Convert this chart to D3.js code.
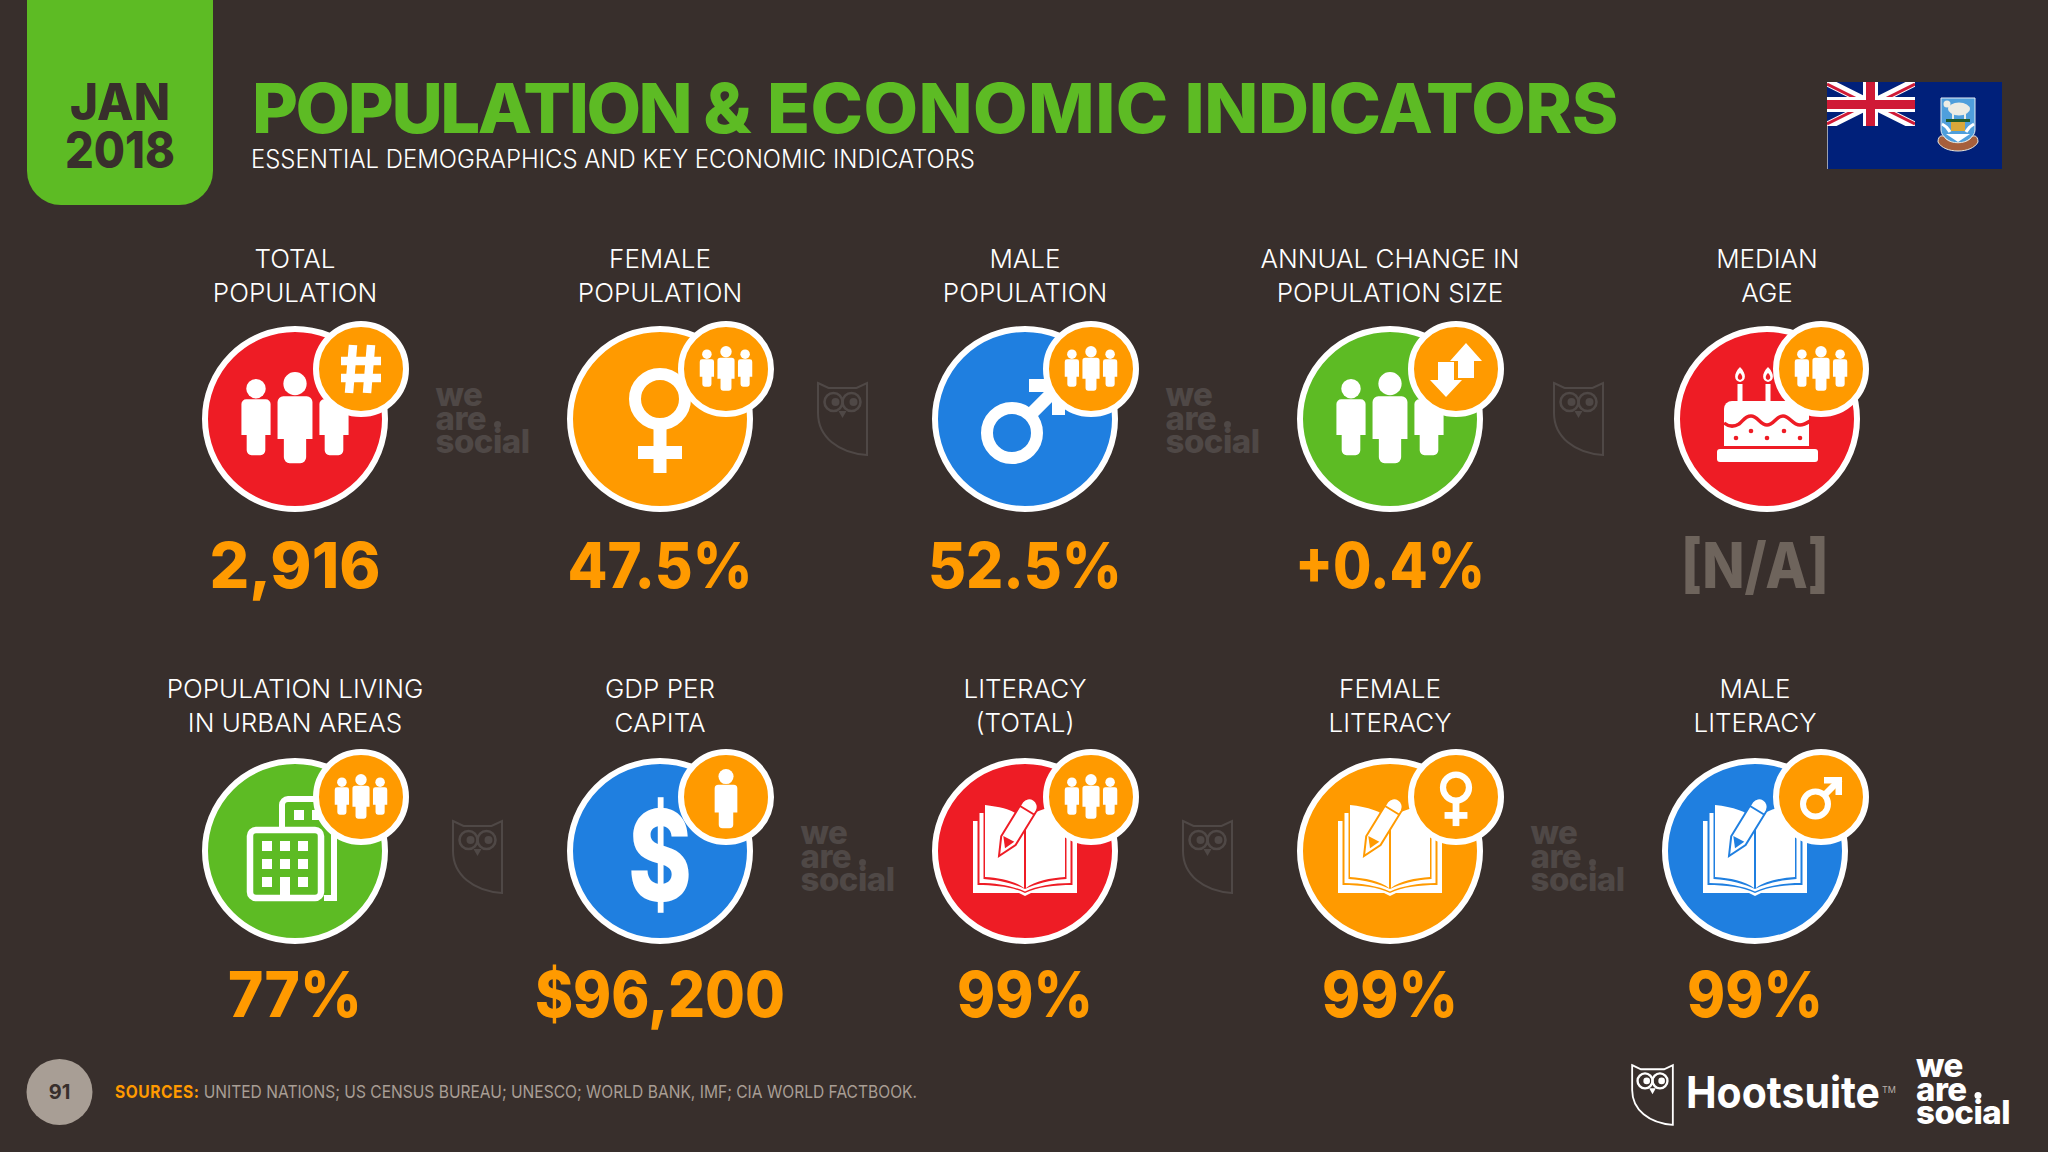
<!DOCTYPE html>
<html>
<head>
<meta charset="utf-8">
<script src="https://cdn.jsdelivr.net/npm/d3@7"></script>
<style>
html, body { margin: 0; padding: 0; background: #382f2c; overflow: hidden; }
text { font-family: Inter, "Liberation Sans", sans-serif; }
</style>
</head>
<body>
<div id="chart"></div>
<script>
// ---- data ----
var labels = [
    ["TOTAL", "POPULATION"], ["FEMALE", "POPULATION"], ["MALE", "POPULATION"],
    ["ANNUAL CHANGE IN", "POPULATION SIZE"], ["MEDIAN", "AGE"],
    ["POPULATION LIVING", "IN URBAN AREAS"], ["GDP PER", "CAPITA"], ["LITERACY", "(TOTAL)"],
    ["FEMALE", "LITERACY"], ["MALE", "LITERACY"]
];
var values = ["2,916", "47.5%", "52.5%", "+0.4%", "[N/A]", "77%", "$96,200", "99%", "99%", "99%"];
var mainIcons = ["people", "female", "male", "people", "cake", "building", "dollar", "book", "book", "book"];
var badgeIcons = ["hash", "people", "people", "arrows", "people", "people", "person", "people", "female", "male"];
var circleFills = ["red", "orange", "blue", "green", "red", "green", "blue", "red", "orange", "blue"];
var watermarks = [["wordmark", "owl", "wordmark", "owl"], ["owl", "wordmark", "owl", "wordmark"]];
var sources = "UNITED NATIONS; US CENSUS BUREAU; UNESCO; WORLD BANK, IMF; CIA WORLD FACTBOOK.";

// printed width of each value, the slide's face is narrower than Inter
var valueWidths = [171, 185, 194, 190, 148, 134, 250, 136, 136, 136];

var palette = { red: "#ee1c25", orange: "#ff9a00", blue: "#1f7fe0", green: "#5dbb24" };
var bg = "#382f2c";
var ghost = "#4f4846";

var width = 2048;
var height = 1152;

var svg = d3.select("#chart").append("svg")
    .attr("width", width).attr("height", height)
    .style("display", "block");

svg.append("rect").attr("width", width).attr("height", height).attr("fill", bg);

var colX = d3.scalePoint().domain(d3.range(5)).range([295, 1755]);
var rowY = d3.scalePoint().domain([0, 1]).range([419, 851]);
var rowBadge = d3.scalePoint().domain([0, 1]).range([369, 797]);
var rowBaseline = d3.scalePoint().domain([0, 1]).range([588, 1017]);
var rowLabel = d3.scalePoint().domain([0, 1]).range([268, 698]);

function fitText(sel, w) {
    sel.attr("textLength", w).attr("lengthAdjust", "spacingAndGlyphs");
    return sel;
}

// ---- header ----
svg.append("path")
    .attr("d", "M27,0H213V171a34,34 0 0 1 -34,34H61a34,34 0 0 1 -34,-34Z")
    .attr("fill", palette.green);
svg.append("text").attr("x", 120).attr("y", 120).attr("text-anchor", "middle")
    .attr("font-size", 51).attr("font-weight", 800).attr("fill", bg).text("JAN")
    .call(fitText, 100);
svg.append("text").attr("x", 120).attr("y", 168).attr("text-anchor", "middle")
    .attr("font-size", 51).attr("font-weight", 800).attr("fill", bg).text("2018")
    .call(fitText, 110);
var title = svg.append("text").attr("x", 252).attr("y", 133)
    .attr("font-size", 69).attr("font-weight", 800).attr("fill", palette.green);
title.append("tspan").attr("letter-spacing", -2.4).text("POPULATION ");
title.append("tspan").text("& ");
title.append("tspan").attr("letter-spacing", 0.4).text("ECONOMIC ");
title.append("tspan").attr("letter-spacing", -0.4).text("INDICATORS");
title.call(fitText, 1366);
svg.append("text").attr("x", 251).attr("y", 168)
    .attr("font-size", 25).attr("font-weight", 300).attr("fill", "#fff")
    .text("ESSENTIAL DEMOGRAPHICS AND KEY ECONOMIC INDICATORS").call(fitText, 724);

drawFlag(svg.append("g").attr("transform", "translate(1827,82)"));

// ---- icon pieces, all centred on the local origin ----
function person(g, cx, top, s, fill) {
    // s = 1 is a figure 94 tall
    var hw = 18 * s, y0 = top + 25 * s, y1 = top + 94 * s, arm = top + 69 * s, leg = 11.5 * s, r = 6 * s;
    g.append("circle").attr("cx", cx).attr("cy", top + 12 * s).attr("r", 12 * s).attr("fill", fill);
    g.append("path").attr("fill", fill).attr("d",
        "M" + (cx - hw) + "," + (y0 + r) + "a" + r + "," + r + " 0 0 1 " + r + "," + (-r) +
        "H" + (cx + hw - r) + "a" + r + "," + r + " 0 0 1 " + r + "," + r +
        "V" + arm + "H" + (cx + leg) + "V" + (y1 - r) + "a" + r + "," + r + " 0 0 1 " + (-r) + "," + r +
        "H" + (cx - leg + r) + "a" + r + "," + r + " 0 0 1 " + (-r) + "," + (-r) +
        "V" + arm + "H" + (cx - hw) + "Z");
}

function people(g, s, fill) {
    person(g, -39 * s, -40 * s, 0.81 * s, fill);
    person(g, 39 * s, -40 * s, 0.81 * s, fill);
    person(g, 0, -47 * s, 0.97 * s, fill);
}

function femaleSign(g, s) {
    g.append("circle").attr("cy", -20 * s).attr("r", 25 * s)
        .attr("fill", "none").attr("stroke", "#fff").attr("stroke-width", 12 * s);
    g.append("rect").attr("x", -6.5 * s).attr("y", 8 * s).attr("width", 13 * s).attr("height", 46 * s).attr("fill", "#fff");
    g.append("rect").attr("x", -22 * s).attr("y", 27 * s).attr("width", 44 * s).attr("height", 13 * s).attr("fill", "#fff");
}

function maleSign(g, s) {
    g.append("circle").attr("cx", -13 * s).attr("cy", 14 * s).attr("r", 25 * s)
        .attr("fill", "none").attr("stroke", "#fff").attr("stroke-width", 12 * s);
    g.append("line").attr("x1", 3 * s).attr("y1", -2 * s).attr("x2", 36 * s).attr("y2", -35 * s)
        .attr("stroke", "#fff").attr("stroke-width", 13 * s);
    g.append("path").attr("fill", "#fff")
        .attr("d", "M" + 4 * s + "," + -40 * s + "H" + 40 * s + "V" + -4 * s + "H" + 27 * s + "V" + -27 * s + "H" + 4 * s + "Z");
}

function hashSign(g) {
    var lines = [[-8, -24, -12, 24], [10, -24, 6, 24], [-20, -8, 20, -8], [-20, 9, 20, 9]];
    lines.forEach(function(l) {
        g.append("line").attr("x1", l[0]).attr("y1", l[1]).attr("x2", l[2]).attr("y2", l[3])
            .attr("stroke", "#fff").attr("stroke-width", 8.5);
    });
}

function arrowsSign(g) {
    g.append("path").attr("fill", "#fff").attr("d", "M10,-26L26,-8H18V9H2V-8H-6Z");
    g.append("path").attr("fill", "#fff").attr("d", "M-10,28L-26,11H-18V-7H-2V11H6Z");
}

function cake(g, color) {
    g.append("rect").attr("x", -50).attr("y", 30).attr("width", 101).attr("height", 13).attr("rx", 3).attr("fill", "#fff");
    g.append("path").attr("fill", "#fff").attr("d", "M-43,27V-10a8,8 0 0 1 8,-8H34a8,8 0 0 1 8,8V27Z");
    g.append("path").attr("fill", "none").attr("stroke", color).attr("stroke-width", 3.5)
        .attr("d", "M-43,4C-38,8 -33,8 -28,5C-24,2 -22,-3 -16,-3C-9,-3 -7,6 0,6C7,6 9,-3 16,-3C23,-3 25,6 33,6C37,6 40,4 43,2");
    [[-16, 12], [17, 12], [-31, 19], [0, 19], [33, 19]].forEach(function(d) {
        g.append("circle").attr("cx", d[0]).attr("cy", d[1]).attr("r", 2.3).attr("fill", color);
    });
    [-27, 1].forEach(function(x) {
        g.append("rect").attr("x", x - 2.5).attr("y", -35).attr("width", 5).attr("height", 18).attr("fill", "#fff");
        g.append("path").attr("fill", "#fff").attr("d", "M" + x + ",-52C" + (x + 7) + ",-45 " + (x + 6) + ",-38 " + x + ",-37C" + (x - 6) + ",-38 " + (x - 7) + ",-45 " + x + ",-52Z");
        g.append("path").attr("fill", color).attr("d", "M" + x + ",-46C" + (x + 3) + ",-43 " + (x + 3) + ",-40 " + x + ",-39C" + (x - 3) + ",-40 " + (x - 3) + ",-43 " + x + ",-46Z");
    });
}

function building(g, color) {
    g.append("path").attr("fill", "none").attr("stroke", "#fff").attr("stroke-width", 6)
        .attr("d", "M-13,-24V-46a6,6 0 0 1 6,-6H30M29,47H39V-20");
    [-1, 17].forEach(function(x) {
        g.append("rect").attr("x", x).attr("y", -41).attr("width", 10).attr("height", 10).attr("fill", "#fff");
    });
    g.append("rect").attr("x", -45).attr("y", -21).attr("width", 71).attr("height", 68).attr("rx", 6)
        .attr("fill", color).attr("stroke", "#fff").attr("stroke-width", 6.5);
    d3.range(3).forEach(function(r) {
        d3.range(3).forEach(function(c) {
            // the middle of the bottom row is the door
            var h = (r === 2 && c === 1) ? 20 : 10;
            g.append("rect").attr("x", -33 + c * 18).attr("y", -10 + r * 18).attr("width", 10).attr("height", h).attr("fill", "#fff");
        });
    });
}

function book(g, color) {
    g.append("path").attr("fill", "#fff")
        .attr("d", "M-52,-30H-47.5V34C-30,34 -12,36 0,42C12,36 30,34 47.5,34V-30H52V42H6L0,45L-6,42H-52Z");
    g.append("path").attr("fill", "#fff")
        .attr("d", "M-45.5,-38H-41.5V28C-25,29 -10,33 0,38C10,33 25,29 41.5,28V-38H45.5V32C28,32 12,35 0,40.5C-12,35 -28,32 -45.5,32Z");
    g.append("path").attr("fill", "#fff").attr("d", "M-40,-46C-22,-44 -8,-40 -1,-31V37C-10,30 -25,27 -40,26Z");
    g.append("path").attr("fill", "#fff").attr("d", "M1,-31C8,-40 22,-44 40,-46V26C25,27 10,30 1,37Z");
    // pencil sits over the left page
    g.append("path").attr("fill", "#fff").attr("stroke", color).attr("stroke-width", 2)
        .attr("d", "M-26,5L-23.8,-14.7L-2.5,-49.4A8.5,8.5 0 0 1 11.9,-40.6L-9.4,-5.9Z");
    g.append("path").attr("fill", color).attr("d", "M-21.7,-15L-10.7,-9.3L-20,-2.7Z");
    g.append("line").attr("x1", -5).attr("y1", -45).attr("x2", 9).attr("y2", -36.5).attr("stroke", color).attr("stroke-width", 2);
}

function dollar(g) {
    g.append("text").attr("x", 0).attr("y", 50).attr("text-anchor", "middle")
        .attr("font-size", 126).attr("font-weight", 800).attr("fill", "#fff").text("$")
        .call(fitText, 64);
}

function owl(g, color, sw) {
    // 49 wide, 72 tall, centred on the local origin
    g.append("path").attr("fill", "none").attr("stroke", color).attr("stroke-width", sw)
        .attr("d", "M-24.5,-36L-14,-31H14L24.5,-36V36C-4,34 -24.5,18 -24.5,-6Z");
    [-9, 9].forEach(function(x) {
        g.append("circle").attr("cx", x).attr("cy", -17).attr("r", 9)
            .attr("fill", "none").attr("stroke", color).attr("stroke-width", sw * 1.3);
    });
    g.append("circle").attr("cx", -7).attr("cy", -17).attr("r", 4).attr("fill", color);
    g.append("circle").attr("cx", 11).attr("cy", -17).attr("r", 4).attr("fill", color);
    g.append("path").attr("fill", color).attr("d", "M-4,-8H4L0,-1Z");
}

function wordmark(g, color) {
    // left edge on x = 0, first baseline y = 0
    var lines = ["we", "are", "social"];
    lines.forEach(function(t, i) {
        g.append("text").attr("x", 0).attr("y", i * 23.5)
            .attr("font-size", 33).attr("font-weight", 800).attr("fill", color).text(t)
            .attr("letter-spacing", -0.5);
    });
    g.append("circle").attr("cx", 62).attr("cy", 18.5).attr("r", 3.5).attr("fill", color);
}

function drawFlag(g) {
    var navy = "#00207a", crossRed = "#cf1a36";
    g.append("rect").attr("width", 175).attr("height", 87).attr("fill", navy);
    g.append("rect").attr("width", 1).attr("height", 87).attr("fill", "#9aa0b0");
    svg.append("clipPath").attr("id", "canton").append("rect").attr("width", 88).attr("height", 44);
    var canton = g.append("g").attr("clip-path", "url(#canton)");
    canton.append("rect").attr("width", 88).attr("height", 44).attr("fill", navy);
    canton.append("path").attr("stroke", "#fff").attr("stroke-width", 8.5).attr("d", "M0,0L88,44M88,0L0,44");
    canton.append("path").attr("stroke", crossRed).attr("stroke-width", 3).attr("d", "M0,2L36,20M52,24L88,42M88,2L52,20M36,24L0,42");
    canton.append("rect").attr("x", 36).attr("width", 15).attr("height", 44).attr("fill", "#fff");
    canton.append("rect").attr("y", 15).attr("width", 88).attr("height", 15).attr("fill", "#fff");
    canton.append("rect").attr("x", 39).attr("width", 9).attr("height", 44).attr("fill", crossRed);
    canton.append("rect").attr("y", 18).attr("width", 88).attr("height", 9).attr("fill", crossRed);
    // coat of arms
    var arms = g.append("g").attr("transform", "translate(131,0)");
    arms.append("path").attr("fill", "#4f9fdc").attr("stroke", "#e8eef5").attr("stroke-width", 1)
        .attr("d", "M-17,16H17V48C17,55 8,60 0,63C-8,60 -17,55 -17,48Z");
    arms.append("ellipse").attr("cx", 1).attr("cy", 27).attr("rx", 11).attr("ry", 6.5).attr("fill", "#ecece4");
    arms.append("circle").attr("cx", -11).attr("cy", 22).attr("r", 3.5).attr("fill", "#ecece4");
    arms.append("rect").attr("x", -6).attr("y", 32).attr("width", 2).attr("height", 5).attr("fill", "#ecece4");
    arms.append("rect").attr("x", 6).attr("y", 32).attr("width", 2).attr("height", 5).attr("fill", "#ecece4");
    arms.append("rect").attr("x", -12).attr("y", 37).attr("width", 24).attr("height", 3).attr("fill", "#1f5c2a");
    arms.append("rect").attr("x", -7).attr("y", 40).attr("width", 14).attr("height", 9).attr("fill", "#d8a83a");
    arms.append("path").attr("fill", "none").attr("stroke", "#fff").attr("stroke-width", 3).attr("d", "M-16,42C-12,44 -10,46 -8,50M16,42C12,44 10,46 8,50");
    arms.append("path").attr("fill", "#fff").attr("d", "M-12,52H12L0,60Z");
    arms.append("path").attr("fill", "#a65f3c").attr("stroke", "#e8e8e0").attr("stroke-width", 1)
        .attr("d", "M-20,60C-14,72 14,72 20,60C20,53 15,52 12,57C6,62 -6,62 -12,57C-15,52 -20,53 -20,60Z");
}

var mainDrawers = {
    people: function(g) { people(g, 1, "#fff"); },
    female: function(g) { femaleSign(g, 1); },
    male: function(g) { maleSign(g, 1); },
    cake: cake,
    building: building,
    dollar: dollar,
    book: book
};
var badgeDrawers = {
    hash: hashSign,
    arrows: arrowsSign,
    people: function(g) { people(g, 0.49, "#fff"); },
    person: function(g) { person(g, 0, -28, 0.63, "#fff"); },
    female: function(g) { g.attr("transform", "translate(0,1)"); femaleSign(g, 0.52); },
    male: function(g) { g.attr("transform", "translate(1,0)"); maleSign(g, 0.5); }
};

// ---- the ten tiles ----
values.forEach(function(value, i) {
    var col = i % 5, row = Math.floor(i / 5);
    var offset = i === 4 ? 12 : 0;   // median age tile sits a little to the right
    var cx = colX(col) + offset, cy = rowY(row);
    var color = palette[circleFills[i]];

    labels[i].forEach(function(line, k) {
        svg.append("text").attr("x", cx).attr("y", rowLabel(row) + k * 34)
            .attr("text-anchor", "middle").attr("font-size", 26).attr("font-weight", 300)
            .attr("fill", "#fff").text(line);
    });

    var tile = svg.append("g").attr("transform", "translate(" + cx + "," + cy + ")");
    tile.append("circle").attr("r", 90).attr("fill", color).attr("stroke", "#fff").attr("stroke-width", 6);
    mainDrawers[mainIcons[i]](tile.append("g"), color);

    // the badge keeps to the column, also on the median age tile
    var badge = svg.append("g").attr("transform", "translate(" + (colX(col) + 66) + "," + rowBadge(row) + ")");
    badge.append("circle").attr("r", 45).attr("fill", palette.orange).attr("stroke", "#fff").attr("stroke-width", 6);
    badgeDrawers[badgeIcons[i]](badge.append("g"));

    svg.append("text").attr("x", colX(col)).attr("y", rowBaseline(row))
        .attr("text-anchor", "middle").attr("font-size", 63).attr("font-weight", 800)
        .attr("fill", value === "[N/A]" ? "#6e645c" : palette.orange)
        .text(value).call(fitText, valueWidths[i]);
});

// ---- faint logos between the tiles ----
watermarks.forEach(function(rowMarks, row) {
    rowMarks.forEach(function(kind, c) {
        var mid = (colX(c) + colX(c + 1)) / 2 + (kind === "owl" ? 0 : 4);
        if (row === 0 && c === 3) mid += 6;
        var y = rowY(row) + row * 6;
        if (kind === "owl") {
            owl(svg.append("g").attr("transform", "translate(" + mid + "," + y + ")"), ghost, 2);
        } else {
            wordmark(svg.append("g").attr("transform", "translate(" + (mid - 46) + "," + (y - 13) + ")"), ghost);
        }
    });
});

// ---- footer ----
svg.append("circle").attr("cx", 59.5).attr("cy", 1092).attr("r", 33).attr("fill", "#a89e95");
svg.append("text").attr("x", 59.5).attr("y", 1099).attr("text-anchor", "middle")
    .attr("font-size", 20).attr("font-weight", 700).attr("fill", bg).text("91");
var src = svg.append("text").attr("x", 115).attr("y", 1098).attr("font-size", 17.5).attr("fill", "#a89e95").attr("font-weight", 400);
src.append("tspan").attr("fill", palette.orange).attr("font-weight", 700).attr("letter-spacing", 0.6).text("SOURCES: ");
src.append("tspan").text(sources);
src.call(fitText, 802);

owl(svg.append("g").attr("transform", "translate(1652.5,1095) scale(0.83)"), "#fff", 2.2);
svg.append("text").attr("x", 1686).attr("y", 1108).attr("font-size", 44).attr("font-weight", 700)
    .attr("fill", "#fff").text("Hootsuite").call(fitText, 194);
svg.append("text").attr("x", 1882).attr("y", 1093).attr("font-size", 9).attr("fill", "#b8b0aa").text("TM");
wordmark(svg.append("g").attr("transform", "translate(1916,1077)"), "#fff");
</script>
</body>
</html>
